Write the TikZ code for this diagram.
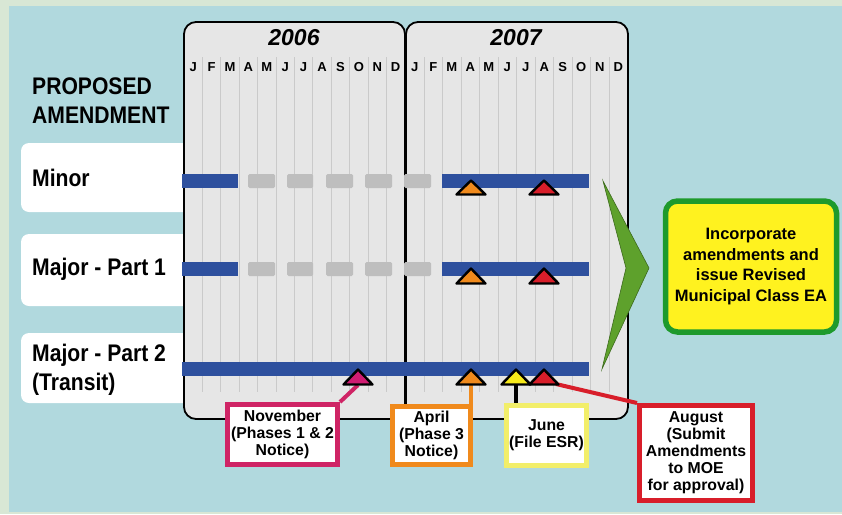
\documentclass[tikz,border=0pt]{standalone}
\usepackage{fontspec}
\setmainfont{Liberation Sans}
\newfontfamily\condfont[FakeStretch=0.88]{Liberation Sans}
\usetikzlibrary{calc}
\definecolor{framegreen}{HTML}{D8E7D5}
\definecolor{bgblue}{HTML}{B1D9DE}
\definecolor{panelgrey}{HTML}{E6E6E6}
\definecolor{gridgrey}{HTML}{CACACA}
\definecolor{barblue}{HTML}{2E509E}
\definecolor{boxgrey}{HTML}{BEBEBE}
\definecolor{triorange}{HTML}{F08A1C}
\definecolor{trired}{HTML}{D81E2A}
\definecolor{trimag}{HTML}{D01C72}
\definecolor{triyellow}{HTML}{F7EA1A}
\definecolor{junebord}{HTML}{F2EE6A}
\definecolor{novbord}{HTML}{CF2465}
\definecolor{arrgreen}{HTML}{5EA12C}
\definecolor{arrdark}{HTML}{3C6A1C}
\definecolor{finfill}{HTML}{FFF21F}
\definecolor{finbord}{HTML}{1E9A2C}
\tikzset{
  barstyle/.style={fill=barblue,draw=none},
  greyboxstyle/.style={fill=boxgrey,draw=none,rounded corners=1.5pt},
  tristyle/.style={draw=black,line width=2.4pt,line join=round},
  calloutstyle/.style={draw,line width=5pt,fill=white,inner sep=0pt,align=center,
    font=\bfseries\fontsize{15.8}{17}\selectfont},
  rowboxstyle/.style={fill=white,draw=none,rounded corners=8pt},
  rowlabel/.style={anchor=west,inner sep=0pt,align=left,
    font=\condfont\bfseries\fontsize{24}{29}\selectfont},
  monthlbl/.style={inner sep=0pt,font=\bfseries\fontsize{13}{14}\selectfont},
  yearlbl/.style={inner sep=0pt,font=\bfseries\itshape\fontsize{23}{26}\selectfont},
  panelstyle/.style={fill=panelgrey,draw=black,line width=1.8pt,rounded corners=12pt},
  gridline/.style={draw=gridgrey,line width=0.8pt},
  conn/.style={line width=4pt}
}
\begin{document}
\begin{tikzpicture}[x=1pt,y=-1pt]
\useasboundingbox (0,0) rectangle (842,514);
% backgrounds
\fill[framegreen] (0,0) rectangle (842,514);
\fill[bgblue] (9,6) rectangle (842,512);

% row label boxes
\fill[rowboxstyle] (21,143) rectangle (200,212);
\fill[rowboxstyle] (21,234) rectangle (200,306);
\fill[rowboxstyle] (21,333) rectangle (200,403);

% left labels
\node[rowlabel] (hdr) at (32,100.5) {PROPOSED\\AMENDMENT};
\node[rowlabel] (lminor) at (32,178) {Minor};
\node[rowlabel] (lmaj1) at (32,269) {Major - Part 1};
\node[rowlabel] (lmaj2) at (32,369.5) {Major - Part 2\\(Transit)};

% panels
\draw[panelstyle] (184,22) rectangle (405,419);
\draw[panelstyle] (406,22) rectangle (628,419);

% grid lines
\foreach \k in {1,...,11} {
  \draw[gridline] ({184+18.4*\k},57) -- ({184+18.4*\k},392);
  \draw[gridline] ({405.5+18.5*\k},57) -- ({405.5+18.5*\k},392);
}

% years and months
\node[yearlbl] (y2006) at (294,38) {2006};
\node[yearlbl] (y2007) at (516,38) {2007};
\foreach \m [count=\i from 0] in {J,F,M,A,M,J,J,A,S,O,N,D} {
  \node[monthlbl] (ma\i) at ({184+18.4*(\i+0.5)},67) {\m};
  \node[monthlbl] (mb\i) at ({405.5+18.5*(\i+0.5)},67) {\m};
}

% bars
\fill[barstyle] (182,174) rectangle (238,188);
\fill[barstyle] (442,174) rectangle (589,188);
\fill[barstyle] (182,262) rectangle (238,276);
\fill[barstyle] (442,262) rectangle (589,276);
\fill[barstyle] (182,362) rectangle (589,376);
\foreach \a/\b in {248/275,287/313,326/353,365/392,404/431} {
  \fill[greyboxstyle] (\a,174) rectangle (\b,188);
  \fill[greyboxstyle] (\a,262) rectangle (\b,276);
}

% green chevron
\draw[fill=arrgreen,draw=arrdark,line width=0.6pt,line join=miter]
  (603,181) -- (649,268) -- (602,369) -- (626,268) -- cycle;

% anchor points of triangles (base middle)
\coordinate (tnov) at (358,385);
\coordinate (tapr) at (471,385);
\coordinate (tjun) at (516,385);
\coordinate (taug) at (556,384);

% callout boxes
\node[calloutstyle,draw=novbord,minimum width=110pt,minimum height=60pt] (nov) at (282.5,434.5) {November\\(Phases 1 \& 2\\Notice)};
\node[calloutstyle,draw=triorange,minimum width=78pt,minimum height=58pt] (apr) at (431.5,435.5) {April\\(Phase 3\\Notice)};
\node[calloutstyle,draw=junebord,minimum width=80pt,minimum height=60pt] (jun) at (546.5,435.5) {June\\(File ESR)};
\node[calloutstyle,draw=trired,minimum width=113pt,minimum height=95pt] (aug) at (696,453) {August\\(Submit\\Amendments\\to MOE\\for approval)};

% connectors
\draw[conn,draw=novbord] (tnov) -- (nov.north east);
\draw[conn,draw=triorange] (tapr) -- (tapr |- apr.north);
\draw[conn,draw=black,line width=4.5pt] (tjun) -- (tjun |- jun.north);
\draw[conn,draw=trired] (taug) -- (aug.north west);

% triangles
\foreach \x/\c in {471/triorange,544/trired} {
  \draw[tristyle,fill=\c] (\x,180.5) -- (\x+14.5,194.5) -- (\x-14.5,194.5) -- cycle;
  \draw[tristyle,fill=\c] (\x,268.5) -- (\x+14.5,283.5) -- (\x-14.5,283.5) -- cycle;
}
\foreach \x/\c in {358/trimag,471/triorange,516/triyellow,544/trired} {
  \draw[tristyle,fill=\c] (\x,369.5) -- (\x+14.5,384.5) -- (\x-14.5,384.5) -- cycle;
}

% final box
\node[draw=finbord,fill=finfill,line width=5.5pt,rounded corners=12pt,
  minimum width=171pt,minimum height=131pt,inner sep=0pt,align=center,
  font=\bfseries\fontsize{16.5}{20.5}\selectfont] (fin) at (751,266.5)
  {Incorporate\\amendments and\\issue Revised\\Municipal Class EA};
\end{tikzpicture}
\end{document}
